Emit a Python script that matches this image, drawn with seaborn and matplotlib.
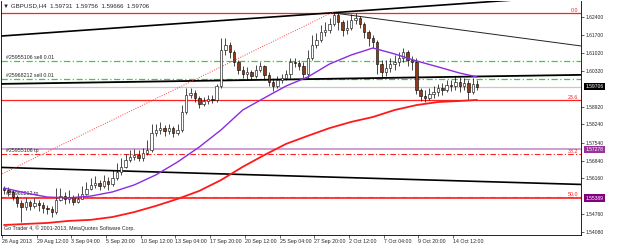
import numpy as np
import pandas as pd
import matplotlib
matplotlib.use('Agg')
import matplotlib.pyplot as plt
import matplotlib.transforms as mtransforms
import seaborn as sns

sns.set_style('white')
plt.rcParams['font.family'] = ['Liberation Sans', 'DejaVu Sans']

# GBPUSD, one candle per two H4 bars (26 Aug - 16 Oct 2013)
first_open = 1.5578
close = [1.5570, 1.5563, 1.5543, 1.5520, 1.5505, 1.5524, 1.5509, 1.5520, 1.5512, 1.5501,
         1.5497, 1.5485, 1.5532, 1.5547, 1.5536, 1.5543, 1.5524, 1.5536, 1.5555, 1.5574,
         1.5590, 1.5598, 1.5586, 1.5605, 1.5594, 1.5617, 1.5640, 1.5660, 1.5687, 1.5698,
         1.5706, 1.5694, 1.5714, 1.5725, 1.5791, 1.5803, 1.5810, 1.5799, 1.5810, 1.5791,
         1.5803, 1.5872, 1.5938, 1.5946, 1.5927, 1.5903, 1.5915, 1.5923, 1.5919, 1.5973,
         1.6112, 1.6132, 1.6105, 1.6066, 1.6035, 1.6019, 1.6027, 1.6012, 1.6035, 1.6050,
         1.6016, 1.5988, 1.5973, 1.5996, 1.6004, 1.6019, 1.6066, 1.6062, 1.6050, 1.6019,
         1.6081, 1.6132, 1.6151, 1.6182, 1.6190, 1.6213, 1.6248, 1.6221, 1.6190, 1.6197,
         1.6228, 1.6236, 1.6213, 1.6182, 1.6159, 1.6143, 1.6058, 1.6027, 1.6043, 1.6058,
         1.6066, 1.6081, 1.6105, 1.6074, 1.6066, 1.5958, 1.5934, 1.5927, 1.5942, 1.5950,
         1.5965, 1.5958, 1.5977, 1.5973, 1.5988, 1.5973, 1.5985, 1.5950, 1.5981, 1.5971]
high = [1.5586, 1.5582, 1.5570, 1.5551, 1.5532, 1.5540, 1.5532, 1.5540, 1.5532, 1.5524,
        1.5512, 1.5509, 1.5578, 1.5578, 1.5563, 1.5570, 1.5551, 1.5559, 1.5586, 1.5602,
        1.5617, 1.5625, 1.5609, 1.5629, 1.5621, 1.5648, 1.5675, 1.5694, 1.5710, 1.5725,
        1.5729, 1.5725, 1.5733, 1.5764, 1.5826, 1.5826, 1.5834, 1.5822, 1.5826, 1.5818,
        1.5826, 1.5899, 1.5965, 1.5965, 1.5958, 1.5934, 1.5930, 1.5938, 1.5938, 1.5981,
        1.6159, 1.6159, 1.6143, 1.6112, 1.6074, 1.6050, 1.6047, 1.6035, 1.6054, 1.6066,
        1.6054, 1.6027, 1.6004, 1.6012, 1.6019, 1.6035, 1.6081, 1.6081, 1.6074, 1.6066,
        1.6112, 1.6170, 1.6178, 1.6209, 1.6221, 1.6236, 1.6259, 1.6255, 1.6228, 1.6228,
        1.6252, 1.6255, 1.6244, 1.6221, 1.6190, 1.6170, 1.6151, 1.6074, 1.6074, 1.6081,
        1.6093, 1.6105, 1.6120, 1.6112, 1.6089, 1.6081, 1.5965, 1.5958, 1.5965, 1.5973,
        1.5981, 1.5985, 1.5996, 1.5996, 1.6012, 1.6008, 1.6004, 1.5996, 1.6004, 1.5996]
low = [1.5555, 1.5547, 1.5532, 1.5505, 1.5447, 1.5493, 1.5493, 1.5501, 1.5489, 1.5482,
       1.5478, 1.5466, 1.5478, 1.5528, 1.5516, 1.5520, 1.5512, 1.5520, 1.5536, 1.5551,
       1.5570, 1.5578, 1.5570, 1.5578, 1.5570, 1.5586, 1.5609, 1.5629, 1.5656, 1.5679,
       1.5687, 1.5683, 1.5683, 1.5706, 1.5718, 1.5779, 1.5787, 1.5779, 1.5787, 1.5776,
       1.5783, 1.5795, 1.5865, 1.5927, 1.5911, 1.5888, 1.5896, 1.5903, 1.5907, 1.5911,
       1.5965, 1.6093, 1.6081, 1.6050, 1.6019, 1.6004, 1.5996, 1.5996, 1.6004, 1.6027,
       1.5996, 1.5973, 1.5954, 1.5965, 1.5985, 1.5996, 1.6004, 1.6047, 1.6035, 1.6004,
       1.6004, 1.6074, 1.6120, 1.6143, 1.6166, 1.6178, 1.6205, 1.6190, 1.6166, 1.6174,
       1.6190, 1.6213, 1.6197, 1.6159, 1.6128, 1.6120, 1.6019, 1.6004, 1.6012, 1.6027,
       1.6035, 1.6050, 1.6066, 1.6050, 1.6035, 1.5942, 1.5915, 1.5911, 1.5919, 1.5927,
       1.5934, 1.5938, 1.5950, 1.5954, 1.5958, 1.5950, 1.5958, 1.5919, 1.5942, 1.5958]

# moving averages read at every 5th candle
ma_idx = [0, 5, 10, 15, 20, 25, 30, 35, 40, 45, 50, 55, 60, 65, 70, 75, 80, 85, 90, 95, 100, 105, 109]
ma_purple = [1.5578, 1.5559, 1.5543, 1.5540, 1.5547, 1.5563, 1.5590, 1.5629, 1.5679, 1.5737,
             1.5803, 1.5880, 1.5927, 1.5973, 1.6008, 1.6058, 1.6093, 1.6120, 1.6097, 1.6070,
             1.6047, 1.6023, 1.6008]
ma_red = [1.5435, 1.5439, 1.5443, 1.5451, 1.5455, 1.5466, 1.5485, 1.5509, 1.5536, 1.5567,
          1.5609, 1.5660, 1.5706, 1.5749, 1.5780, 1.5810, 1.5834, 1.5853, 1.5880, 1.5899,
          1.5911, 1.5915, 1.5919]

# trend lines (candle index, price)
top_line = ([-0.9, 132.9], [1.6166, 1.6324])
desc_line = ([75.8, 132.9], [1.6256, 1.6128])
mid_line = ([-0.9, 132.9], [1.5981, 1.6016])
low_line = ([-0.9, 132.9], [1.5658, 1.5592])
fib_line = ([-0.9, 75.8], [1.5629, 1.6259])

fib_levels = {'0.0': 1.6255, '23.6': 1.5919, '38.2': 1.5711, '50.0': 1.5543}
sell_orders = [('#25955106 sell 0.01', 1.6070), ('#25968212 sell 0.01', 1.5999)]
tp_orders = [('#25955106 tp', 1.5711), ('#25968212 tp', 1.5543)]
hline_a = 1.57278
hline_b = 1.55389
bid = 1.59706

yticks = [1.62400, 1.61700, 1.61020, 1.60320, 1.58920, 1.58240, 1.57540,
          1.56840, 1.56160, 1.54760, 1.54080]
date_labels = ['26 Aug 2013', '29 Aug 12:00', '3 Sep 04:00', '5 Sep 20:00', '10 Sep 12:00',
               '13 Sep 04:00', '17 Sep 20:00', '20 Sep 12:00', '25 Sep 04:00', '27 Sep 20:00',
               '2 Oct 12:00', '7 Oct 04:00', '9 Oct 20:00', '14 Oct 12:00']
date_pos = [8 * k - 0.5 for k in range(len(date_labels))]

df = pd.DataFrame({'c': close, 'h': high, 'l': low})
df['o'] = df['c'].shift(1).fillna(first_open)
df['i'] = np.arange(len(df))
up = df['c'] >= df['o']

fig = plt.figure(figsize=(6.25, 2.45), dpi=100)
ax = fig.add_axes([1 / 625, 10 / 245, 580 / 625, 234 / 245])

fs = 3.8
dashdot = (0, (5, 2, 1, 2))
green = '#3ccc3c'

# horizontal levels
for name, v in fib_levels.items():
    if name in ('0.0', '23.6'):
        ax.axhline(v, color='#ff2020', lw=0.9, zorder=1)
    else:
        ax.axhline(v, color='#ff2020', lw=0.8, ls=dashdot, zorder=1)
    ax.text(132.3, v, name, color='#ff2020', fontsize=fs, ha='right', va='bottom')
ax.axhline(hline_a, color='#cc99cc', lw=1.3, zorder=1)
ax.axhline(hline_b, color='#ff3030', lw=1.3, zorder=1)
ax.axhline(bid, color='#c8c8c8', lw=0.9, zorder=1)
for txt, v in sell_orders:
    ax.axhline(v, color=green, lw=0.9, ls=dashdot, zorder=1)
    ax.text(0.4, v + 0.0003, txt, fontsize=fs, va='bottom', ha='left')
for txt, v in tp_orders:
    ax.text(0.4, v + 0.0004, txt, fontsize=fs, va='bottom', ha='left')

# trend lines
sns.lineplot(x=top_line[0], y=top_line[1], ax=ax, color='black', lw=1.2, zorder=2)
sns.lineplot(x=desc_line[0], y=desc_line[1], ax=ax, color='#222222', lw=0.7, zorder=2)
sns.lineplot(x=mid_line[0], y=mid_line[1], ax=ax, color='black', lw=1.3, zorder=2)
sns.lineplot(x=low_line[0], y=low_line[1], ax=ax, color='black', lw=1.2, zorder=2)
sns.lineplot(x=fib_line[0], y=fib_line[1], ax=ax, color='#ff4040', lw=0.7,
             linestyle=(0, (1, 1.5)), zorder=2)

# candles
ax.vlines(df['i'], df['l'], df['h'], color='black', lw=0.5, zorder=3)
ax.bar(df['i'][up], (df['c'] - df['o'])[up], bottom=df['o'][up], width=0.55,
       color='white', edgecolor='black', lw=0.4, zorder=4)
ax.bar(df['i'][~up], (df['c'] - df['o'])[~up], bottom=df['o'][~up], width=0.55,
       color='#8b3a1a', edgecolor='black', lw=0.4, zorder=4)

# moving averages
sns.lineplot(x=ma_idx, y=ma_purple, ax=ax, color='#8a2be2', lw=1.0, zorder=5)
sns.lineplot(x=ma_idx, y=ma_red, ax=ax, color='#ff1a1a', lw=1.3, zorder=5)

ax.set_xlim(-0.7, 132.95)
ax.set_ylim(1.53963, 1.63019)

ax.yaxis.tick_right()
ax.set_yticks(yticks)
ax.set_yticklabels([f'{v:.5f}' for v in yticks])
ax.tick_params(axis='y', direction='out', length=2, width=0.5, labelsize=3.6, pad=1.2, right=True, left=False)
ax.set_xticks(date_pos)
ax.set_xticklabels(date_labels, ha='left')
ax.tick_params(axis='x', direction='out', length=2, width=0.5, labelsize=fs, pad=0.8, bottom=True)
ax.set_xlabel('')
ax.set_ylabel('')
for s in ['left', 'bottom', 'right']:
    ax.spines[s].set_color('black')
    ax.spines[s].set_linewidth(0.6)
ax.spines['top'].set_visible(False)

# price boxes on the axis
trans = mtransforms.blended_transform_factory(ax.transAxes, ax.transData)
for v, bg in [(bid, 'black'), (hline_a, '#993399'), (hline_b, '#800080')]:
    ax.text(1.008, v, f'{v:.5f}', transform=trans, fontsize=3.6, color='white', va='center',
            ha='left', clip_on=False, zorder=10,
            bbox=dict(boxstyle='square,pad=0.25', fc=bg, ec='none'))

ax.text(0.004, 0.99, '\u25bc GBPUSD,H4  1.59731  1.59756  1.59666  1.59706', transform=ax.transAxes,
        fontsize=4.4, va='top', ha='left')
ax.text(0.006, 0.015, 'Go Trader 4, \u00a9 2001-2013, MetaQuotes Software Corp.', transform=ax.transAxes,
        fontsize=fs, va='bottom', ha='left')

fig.savefig('out.png', dpi=100)
